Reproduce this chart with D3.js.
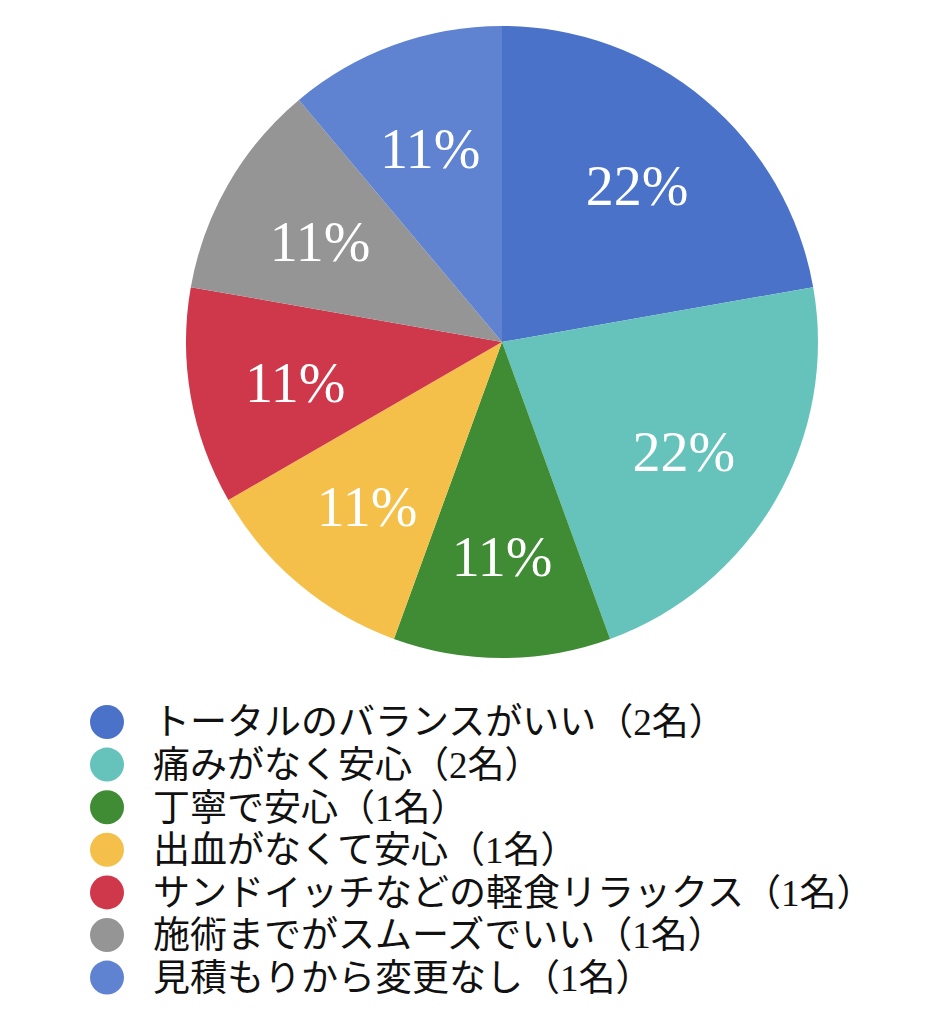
<!DOCTYPE html>
<html><head><meta charset="utf-8">
<script src="https://cdn.jsdelivr.net/npm/d3@7"></script>
<style>body{margin:0;background:#fff}</style>
</head><body>
<svg id="c" width="929" height="1024"></svg>
<script>
const categories = ["トータルのバランスがいい","痛みがなく安心","丁寧で安心","出血がなくて安心","サンドイッチなどの軽食リラックス","施術までがスムーズでいい","見積もりから変更なし"];
const counts = [2,2,1,1,1,1,1];
const colors = ["#4a72c9","#66c3bb","#3f8c34","#f5c04a","#cf374b","#959595","#5f83d1"];

const svg = d3.select("#c");
const cx = 502, cy = 342, R = 316;
const total = d3.sum(counts);
const data = categories.map((c,i)=>({name:c,value:counts[i],color:colors[i]}));
const pie = d3.pie().value(d=>d.value).sort(null);
const arcs = pie(data);
const arc = d3.arc().innerRadius(0).outerRadius(R);
const labelArc = d3.arc().innerRadius(210).outerRadius(210);
const g = svg.append("g").attr("transform",`translate(${cx},${cy})`);
g.selectAll("path").data(arcs).join("path").attr("d",arc).attr("fill",d=>d.data.color);
g.selectAll("text").data(arcs).join("text")
  .attr("transform",d=>`translate(${labelArc.centroid(d)})`)
  .attr("text-anchor","middle").attr("dy","0.42em")
  .attr("font-family","'Liberation Serif', 'Times New Roman', serif")
  .attr("font-size",56).attr("fill","#fff")
  .text(d=>Math.round(d.data.value/total*100)+"%");

const leg = svg.append("g");
const y0 = 722, step = 42.6;
const rows = leg.selectAll("g").data(data).join("g").attr("transform",(d,i)=>`translate(0,${y0+i*step})`);
rows.append("circle").attr("cx",107).attr("cy",0).attr("r",17).attr("fill",d=>d.color);
rows.append("text").attr("x",153).attr("y",0).attr("dy","0.36em")
  .attr("font-family","'Liberation Serif', 'Noto Sans CJK JP', serif")
  .attr("font-size",37).attr("fill","#111")
  .text(d=>`${d.name}（${d.value}名）`);
</script>
</body></html>
